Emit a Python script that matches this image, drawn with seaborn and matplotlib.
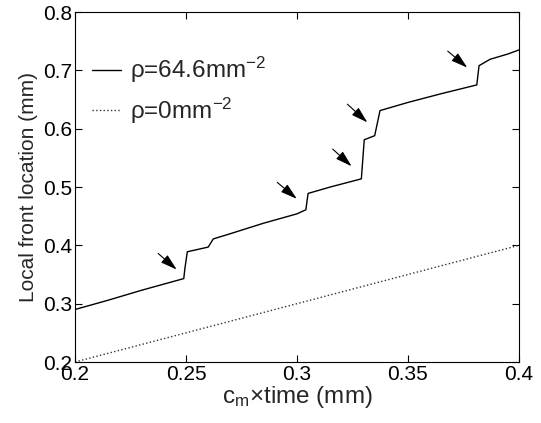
import pandas as pd
import matplotlib
matplotlib.use("Agg")
import matplotlib.pyplot as plt
import seaborn as sns

# solid curve (rho = 64.6 mm^-2)
x_rho = [0.200, 0.215, 0.230, 0.249, 0.2495, 0.2506, 0.260, 0.2623, 0.270, 0.285,
         0.300, 0.304, 0.305, 0.315, 0.329, 0.3303, 0.335, 0.3374, 0.350, 0.365,
         0.381, 0.382, 0.387, 0.395, 0.400]
y_rho = [0.290, 0.306, 0.323, 0.343, 0.360, 0.389, 0.397, 0.411, 0.420, 0.438,
         0.454, 0.461, 0.489, 0.500, 0.514, 0.581, 0.588, 0.631, 0.645, 0.660,
         0.675, 0.708, 0.719, 0.728, 0.735]

# dotted curve (rho = 0)
x_zero = [0.20, 0.25, 0.30, 0.35, 0.40]
y_zero = [0.20, 0.25, 0.30, 0.35, 0.40]

# arrows: (tail x, tail y, head x, head y)
arrows = [
    (0.2375, 0.386, 0.2458, 0.3585),
    (0.2911, 0.508, 0.2999, 0.4798),
    (0.3161, 0.565, 0.3246, 0.5356),
    (0.3227, 0.642, 0.3317, 0.6108),
    (0.3679, 0.733, 0.3767, 0.7048),
]

sns.set_style("white")
plt.rcParams["font.family"] = ["Liberation Sans", "DejaVu Sans"]
plt.rcParams["mathtext.fontset"] = "custom"
plt.rcParams["mathtext.rm"] = "Liberation Sans"
plt.rcParams["mathtext.it"] = "Liberation Sans:italic"

fig = plt.figure(figsize=(5.41, 4.23), dpi=100)
ax = fig.add_axes([0.1386, 0.1442, 0.8207, 0.8274])

df1 = pd.DataFrame({"x": x_rho, "y": y_rho})
df0 = pd.DataFrame({"x": x_zero, "y": y_zero})
sns.lineplot(data=df1, x="x", y="y", ax=ax, color="black", lw=1.0,
             estimator=None, sort=False, label=r"ρ=64.6mm$^{-2}$")
sns.lineplot(data=df0, x="x", y="y", ax=ax, color="#333333", lw=1.0,
             linestyle=":", estimator=None, sort=False, label=r"ρ=0mm$^{-2}$")

for tx, ty, hx, hy in arrows:
    ax.annotate("", xy=(hx, hy), xytext=(tx, ty),
                arrowprops=dict(arrowstyle="-|>,head_length=1.0,head_width=0.3",
                                color="black", lw=0.8, shrinkA=0, shrinkB=0,
                                mutation_scale=10))

ax.set_xlim(0.2, 0.4)
ax.set_ylim(0.2, 0.8)
ax.set_xticks([0.2, 0.25, 0.3, 0.35, 0.4])
ax.set_xticklabels(["0.2", "0.25", "0.3", "0.35", "0.4"])
ax.set_yticks([0.2, 0.3, 0.4, 0.5, 0.6, 0.7, 0.8])
ax.set_yticklabels(["0.2", "0.3", "0.4", "0.5", "0.6", "0.7", "0.8"])
ax.tick_params(direction="in", length=5, width=0.8, labelsize=15,
               top=True, right=True, bottom=True, left=True, pad=2, colors="black")
for s in ax.spines.values():
    s.set_color("black")
    s.set_linewidth(0.8)

ax.set_xlabel(r"c$_{\rm m}$×time (mm)", fontsize=17.5, labelpad=0)
ax.set_ylabel("Local front location (mm)", fontsize=15, labelpad=4)

ax.legend(loc="upper left", bbox_to_anchor=(0.0, 0.925), frameon=False,
          fontsize=17.5, handlelength=1.2, handletextpad=0.35, labelspacing=0.42,
          borderaxespad=0.3)

fig.savefig("out.png", dpi=100)
